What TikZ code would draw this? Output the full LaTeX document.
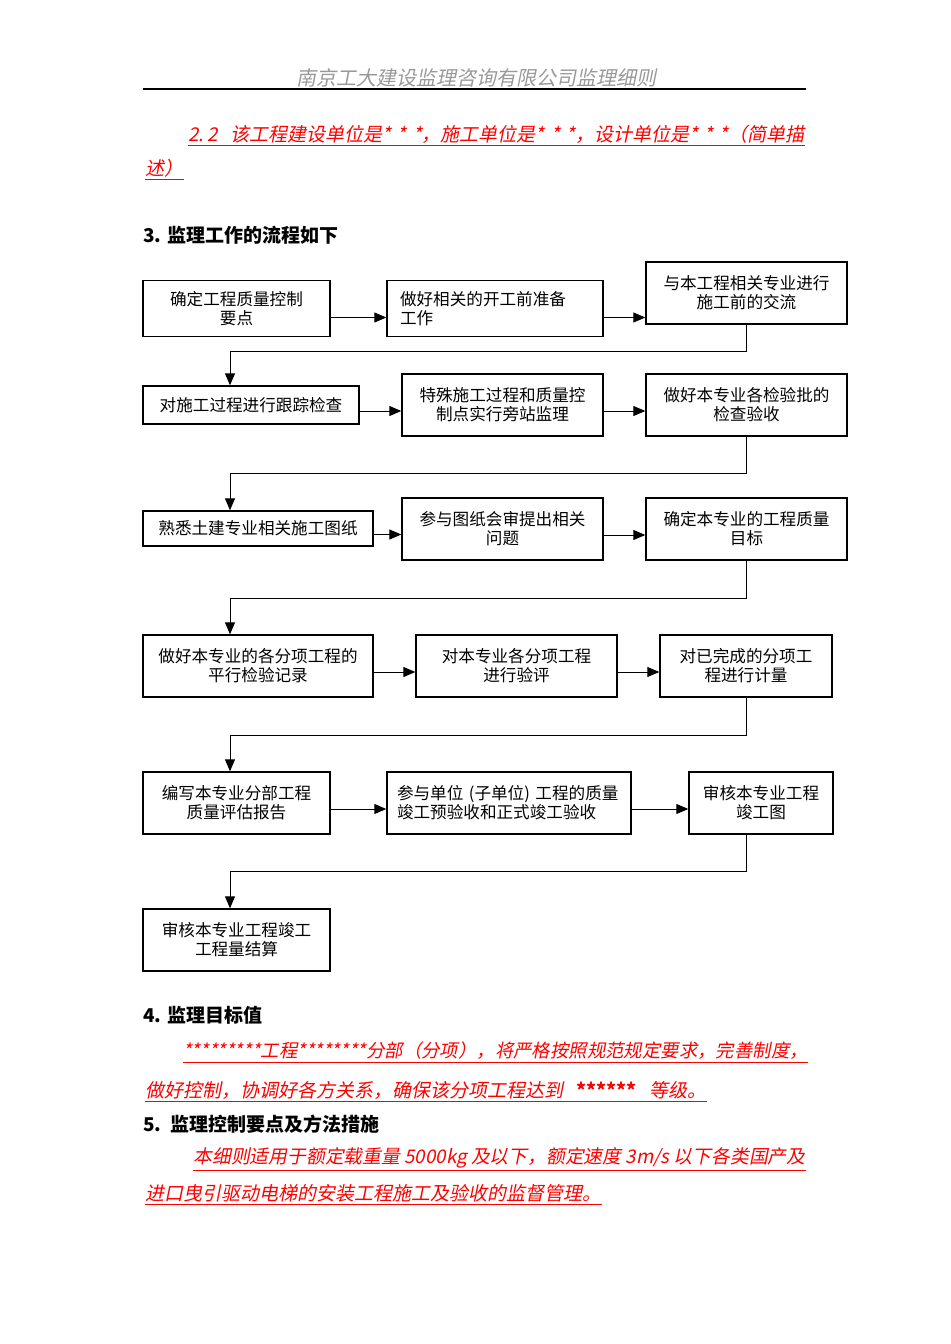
\documentclass[tikz,border=0pt]{standalone}
\usepackage{fontspec}
\setmainfont{Noto Sans CJK SC}
\newfontfamily\slfont[FakeSlant=0.2]{Noto Sans CJK SC}
\usetikzlibrary{arrows.meta}

\begin{document}
\begin{tikzpicture}[x=0.5pt,y=-0.5pt,
  box/.style={draw,line width=0.7pt,align=center,inner sep=0pt,font=\fontsize{8.3}{9.6}\selectfont},
  lbox/.style={box,align=left,inner xsep=5pt},
  sz/.style 2 args={minimum width=#1*0.5pt,minimum height=#2*0.5pt},
  arr/.style={-{Triangle[length=6pt,width=5pt]},line width=0.5pt},
  redtxt/.style={anchor=west,inner sep=0pt,text=red,font=\slfont\fontsize{9.5}{11}\selectfont,
    append after command={([yshift=-1pt]\tikzlastnode.south west) edge[red,line width=0.4pt] ([yshift=-1pt]\tikzlastnode.south east)}},
  headtxt/.style={anchor=west,inner sep=0pt,font=\bfseries\fontsize{9.5}{11}\selectfont}]
\useasboundingbox (0,0) rectangle (950,1344);

% page head
\node (title) at (476,78) [text=gray!80,font=\slfont\fontsize{10}{12}\selectfont] {南京工大建设监理咨询有限公司监理细则};
\draw[line width=0.6pt] (143,89) -- (806,89);

\node (p1) at (188,134) [redtxt] {2.\,2\ \ \ 该工程建设单位是*\,\,*\,\,*，施工单位是*\,\,*\,\,*，设计单位是*\,\,*\,\,*（简单描};
\node (p2) at (145,168) [redtxt] {述）};
\node (h3) at (143,235) [headtxt] {3. 监理工作的流程如下};

% flow boxes
\node (a1) at (236.5,308.5) [box,sz={187}{56}] {确定工程质量控制\\要点};
\node (a2) at (495,308.5) [lbox,inner xsep=6.5pt,text width=95pt,sz={216}{56}] {做好相关的开工前准备\\工作};
\node (a3) at (746.5,293) [box,sz={201}{62}] {与本工程相关专业进行\\施工前的交流};
\node (b1) at (251,405) [box,sz={216}{38}] {对施工过程进行跟踪检查};
\node (b2) at (502.5,405) [box,sz={201}{62}] {特殊施工过程和质量控\\制点实行旁站监理};
\node (b3) at (746.5,405) [box,sz={201}{62}] {做好本专业各检验批的\\检查验收};
\node (c1) at (258,528.5) [box,sz={230}{35}] {熟悉土建专业相关施工图纸};
\node (c2) at (502.5,529) [box,sz={201}{62}] {参与图纸会审提出相关\\问题};
\node (c3) at (746.5,529) [box,sz={201}{62}] {确定本专业的工程质量\\目标};
\node (d1) at (258,666) [box,sz={230}{62}] {做好本专业的各分项工程的\\平行检验记录};
\node (d2) at (516.5,666) [box,sz={201}{62}] {对本专业各分项工程\\进行验评};
\node (d3) at (746,666) [box,sz={172}{62}] {对已完成的分项工\\程进行计量};
\node (e1) at (236.5,803) [box,sz={187}{62}] {编写本专业分部工程\\质量评估报告};
\node (e2) at (509,803) [lbox,text width=112pt,sz={244}{62}] {参与单位~(子单位)~工程的质量\\竣工预验收和正式竣工验收};
\node (e3) at (761,803) [box,sz={144}{62}] {审核本专业工程\\竣工图};
\node (f1) at (236.5,940) [box,sz={187}{62}] {审核本专业工程竣工\\工程量结算};

\coordinate (lx) at (230,0);
\coordinate (rx) at (746,0);

% arrows in the rows
\draw[arr] ([yshift=-4.5pt]a1.east) -- ([yshift=-4.5pt]a2.west);
\draw[arr] ([yshift=-4.5pt]a2.east) coordinate (r1) -- (r1 -| a3.west);
\draw[arr] ([yshift=-3pt]b1.east) -- ([yshift=-3pt]b2.west);
\draw[arr] ([yshift=-3pt]b2.east) -- ([yshift=-3pt]b3.west);
\draw[arr] ([yshift=-3pt]c1.east) coordinate (r3) -- (r3 -| c2.west);
\draw[arr] ([yshift=-3pt]c2.east) -- ([yshift=-3pt]c3.west);
\draw[arr] ([yshift=-3pt]d1.east) -- ([yshift=-3pt]d2.west);
\draw[arr] ([yshift=-3pt]d2.east) -- ([yshift=-3pt]d3.west);
\draw[arr] ([yshift=-3pt]e1.east) -- ([yshift=-3pt]e2.west);
\draw[arr] ([yshift=-3pt]e2.east) -- ([yshift=-3pt]e3.west);

% back to the left
\draw[arr] (a3.south -| rx) -- ++(0,27) -| (b1.north -| lx);
\draw[arr] (b3.south -| rx) -- ++(0,37) -| (c1.north -| lx);
\draw[arr] (c3.south -| rx) -- ++(0,38) -| (d1.north -| lx);
\draw[arr] (d3.south -| rx) -- ++(0,38) -| (e1.north -| lx);
\draw[arr] (e3.south -| rx) -- ++(0,37) -| (f1.north -| lx);

\node (h4) at (143,1015) [headtxt] {4. 监理目标值};
\node (p3) at (183,1051) [redtxt,font=\slfont\fontsize{9.2}{11}\selectfont] {*********工程********分部（分项），将严格按照规范规定要求，完善制度，};
\node (p4) at (145,1090) [redtxt] {做好控制，协调好各方关系，确保该分项工程达到\ \ \ {\rmfamily\bfseries ******}\ \ \ 等级。};
\node (h5) at (143,1124) [headtxt] {5.\ \ 监理控制要点及方法措施};
\node (p5) at (193,1158) [redtxt,font=\slfont\fontsize{9.4}{11}\selectfont] {本细则适用于额定载重量 5000kg 及以下，额定速度 3m/s 以下各类国产及};
\node (p6) at (145,1193) [redtxt] {进口曳引驱动电梯的安装工程施工及验收的监督管理。};
\end{tikzpicture}
\end{document}
